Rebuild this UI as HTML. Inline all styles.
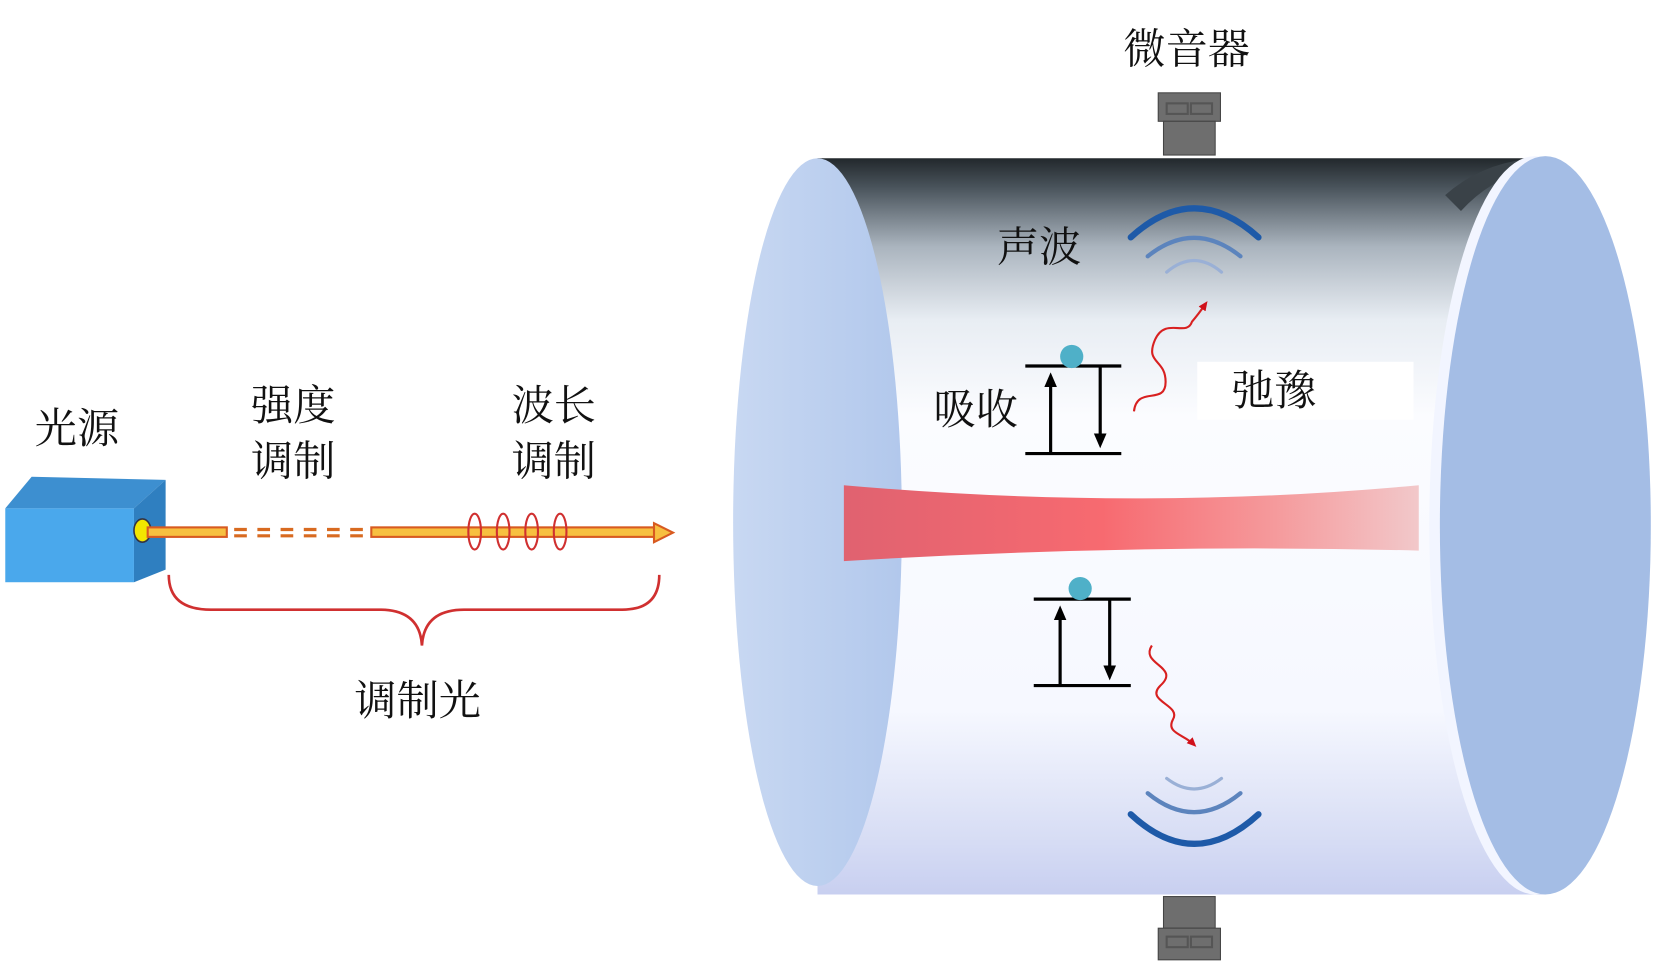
<!DOCTYPE html>
<html><head><meta charset="utf-8"><style>
html,body{margin:0;padding:0;background:#fff;}
svg{display:block;}
text{font-family:"Liberation Serif","Noto Serif CJK SC","Noto Sans CJK SC",serif;fill:#111;}
</style></head><body>
<svg width="1654" height="963" viewBox="0 0 1568 913" preserveAspectRatio="none" xmlns="http://www.w3.org/2000/svg">
<defs>
<linearGradient id="body" x1="0" y1="0" x2="0" y2="1">
<stop offset="0" stop-color="#22282c"/>
<stop offset="0.04" stop-color="#4a545c"/>
<stop offset="0.12" stop-color="#aab4be"/>
<stop offset="0.22" stop-color="#e8edf3"/>
<stop offset="0.35" stop-color="#fbfcff"/>
<stop offset="0.75" stop-color="#f6f8ff"/>
<stop offset="0.93" stop-color="#d6dcf4"/>
<stop offset="1" stop-color="#c8cff0"/>
</linearGradient>
<linearGradient id="beam" x1="0" y1="0" x2="1" y2="0">
<stop offset="0" stop-color="#e06270"/>
<stop offset="0.45" stop-color="#f76a70"/>
<stop offset="0.75" stop-color="#f59a9c"/>
<stop offset="1" stop-color="#f2c8ca"/>
</linearGradient>
<linearGradient id="lface" x1="0" y1="0" x2="1" y2="0">
<stop offset="0" stop-color="#c8d8f2"/>
<stop offset="1" stop-color="#b2c8ec"/>
</linearGradient>
<marker id="rh" markerUnits="userSpaceOnUse" markerWidth="10" markerHeight="10" refX="6" refY="5" orient="auto"><path d="M0,1 L9,5 L0,9 Z" fill="#d0101a"/></marker>
<marker id="bh" markerUnits="userSpaceOnUse" markerWidth="14" markerHeight="14" refX="7" refY="7" orient="auto"><path d="M0,1 L14,7 L0,13 Z" fill="#000"/></marker>
</defs>

<!-- light source -->
<text x="33" y="420" font-size="40">光源</text>
<polygon points="5,482 30,452 157,455 127,482" fill="#3d8fd0"/>
<polygon points="127,482 157,455 157,540 127,552" fill="#2f7fc0"/>
<rect x="5" y="482" width="122" height="70" fill="#4aa8ec"/>
<ellipse cx="135" cy="503" rx="8" ry="11" fill="#f2e600" stroke="#334" stroke-width="1.5"/>
<!-- beam -->
<rect x="140" y="500" width="75" height="9" fill="#f7c040" stroke="#d85a20" stroke-width="2"/>
<g stroke="#d86a20" stroke-width="3">
<line x1="222" y1="502" x2="346" y2="502" stroke-dasharray="12,10"/>
<line x1="222" y1="508" x2="346" y2="508" stroke-dasharray="12,10"/>
</g>
<rect x="352" y="500" width="270" height="9" fill="#f7c040" stroke="#d85a20" stroke-width="2"/>
<polygon points="620,496 638,505 620,514" fill="#f7c040" stroke="#d85a20" stroke-width="2"/>
<g fill="none" stroke="#d03030" stroke-width="2">
<ellipse cx="450" cy="504" rx="6" ry="17"/><ellipse cx="477" cy="504" rx="6" ry="17"/>
<ellipse cx="504" cy="504" rx="6" ry="17"/><ellipse cx="531" cy="504" rx="6" ry="17"/>
</g>
<text x="238" y="398" font-size="40">强度</text>
<text x="238" y="451" font-size="40">调制</text>
<text x="485" y="398" font-size="40">波长</text>
<text x="485" y="451" font-size="40">调制</text>
<path d="M160,545 Q160,578 200,578 L360,578 Q398,578 400,612 Q402,578 440,578 L590,578 Q625,578 625,545" fill="none" stroke="#d03030" stroke-width="2.5"/>
<text x="336" y="678" font-size="40">调制光</text>

<!-- cylinder -->
<path d="M775,150 L1465,150 L1465,848 L775,848 Z" fill="url(#body)"/>
<ellipse cx="775" cy="495" rx="80" ry="345" fill="url(#lface)"/>
<path d="M1370,185 Q1410,150 1465,150 L1465,160 Q1420,162 1385,200 Z" fill="#3a4248"/>
<ellipse cx="1455" cy="498" rx="100" ry="350" fill="#f2f5ff"/>
<ellipse cx="1465" cy="498" rx="100" ry="350" fill="#a4bde5"/>

<!-- beam in cell -->
<path d="M800,460 Q1080,485 1345,460 L1345,522 Q1080,515 800,532 Z" fill="url(#beam)"/>

<!-- mics -->
<g fill="#6e6e6e" stroke="#444" stroke-width="1">
<rect x="1098" y="88" width="59" height="27"/><rect x="1103" y="115" width="49" height="32"/>
<rect x="1103" y="850" width="49" height="30"/><rect x="1098" y="880" width="59" height="30"/>
</g>
<g fill="none" stroke="#555" stroke-width="2">
<rect x="1106" y="98" width="20" height="10"/><rect x="1129" y="98" width="20" height="10"/>
<rect x="1106" y="888" width="20" height="10"/><rect x="1129" y="888" width="20" height="10"/>
</g>
<text x="1065" y="60" font-size="40">微音器</text>

<!-- sound waves -->
<g fill="none" stroke-linecap="round">
<path d="M1072,225 Q1132,170 1193,225" stroke="#1e5aa8" stroke-width="6"/>
<path d="M1088,243 Q1132,208 1176,243" stroke="#5c84bd" stroke-width="4"/>
<path d="M1106,258 Q1132,236 1158,258" stroke="#9ab0d6" stroke-width="3"/>
<path d="M1072,772 Q1132,828 1193,772" stroke="#1e5aa8" stroke-width="6"/>
<path d="M1088,752 Q1132,788 1176,752" stroke="#5c84bd" stroke-width="4"/>
<path d="M1106,738 Q1132,758 1158,738" stroke="#9ab0d6" stroke-width="3"/>
</g>
<text x="945" y="248" font-size="40">声波</text>

<!-- energy levels -->
<g stroke="#000" stroke-width="3">
<line x1="972" y1="347" x2="1063" y2="347"/><line x1="972" y1="430" x2="1063" y2="430"/>
<line x1="996" y1="430" x2="996" y2="360" marker-end="url(#bh)"/>
<line x1="1043" y1="347" x2="1043" y2="418" marker-end="url(#bh)"/>
<line x1="980" y1="568" x2="1072" y2="568"/><line x1="980" y1="650" x2="1072" y2="650"/>
<line x1="1005" y1="650" x2="1005" y2="581" marker-end="url(#bh)"/>
<line x1="1052" y1="568" x2="1052" y2="638" marker-end="url(#bh)"/>
</g>
<circle cx="1016" cy="338" r="11" fill="#4fb0c8"/>
<circle cx="1024" cy="558" r="11" fill="#4fb0c8"/>
<g fill="none" stroke="#d82020" stroke-width="2">
<path d="M1075,390 C1078,365 1105,385 1105,362 C1105,340 1085,345 1095,322 C1105,300 1125,320 1130,305 Q1136,298 1143,288" marker-end="url(#rh)"/>
<path d="M1092,612 C1080,630 1120,632 1100,650 C1085,665 1120,668 1112,682 C1105,695 1122,696 1132,706" marker-end="url(#rh)"/>
</g>
<text x="885" y="402" font-size="40">吸收</text>
<rect x="1135" y="343" width="205" height="55" fill="#fff"/>
<text x="1168" y="384" font-size="40">弛豫</text>
</svg>
</body></html>
